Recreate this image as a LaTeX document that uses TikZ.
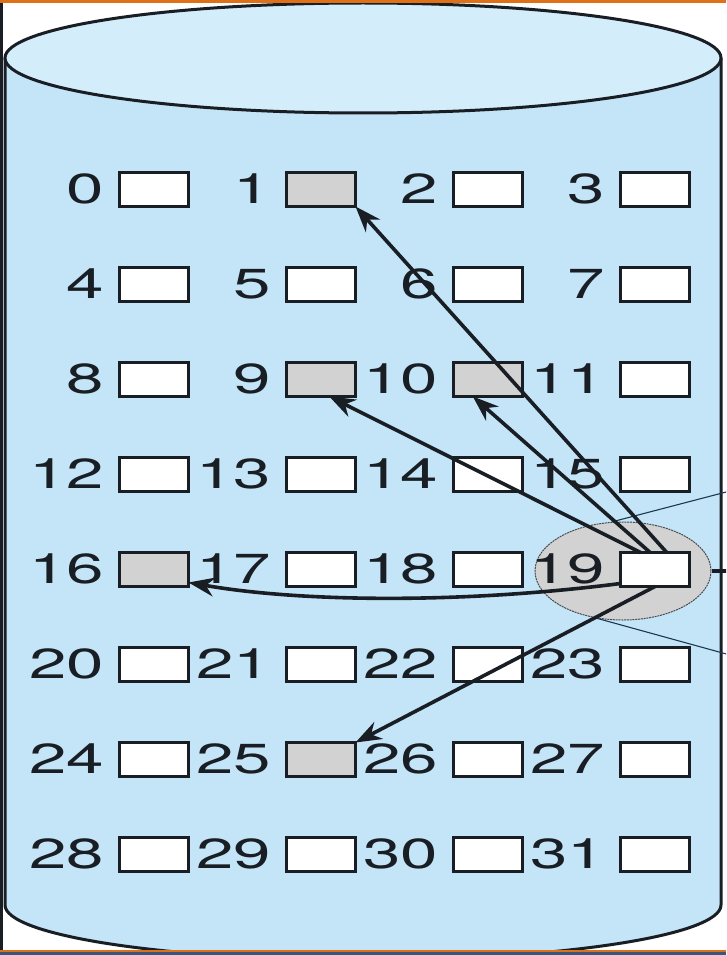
\documentclass[tikz,border=0pt]{standalone}
\usepackage{fontspec}
\setmainfont{TeX Gyre Heros}
\usetikzlibrary{arrows.meta,calc,shapes.geometric}
\definecolor{bodyblue}{RGB}{196,229,247}
\definecolor{topblue}{RGB}{212,237,251}
\definecolor{grayfill}{RGB}{210,210,210}
\definecolor{ink}{RGB}{25,30,36}
\definecolor{thinink}{RGB}{30,55,80}
\definecolor{orangeband}{RGB}{222,112,24}
\definecolor{blueband}{RGB}{55,85,125}
\begin{document}
\begin{tikzpicture}[x=1pt,y=-1pt,
  box/.style={draw=ink, line width=3pt, fill=white, minimum width=69pt, minimum height=34pt, inner sep=0pt, outer sep=0pt},
  shaded/.style={box, fill=grayfill},
  lab/.style={anchor=base east, inner sep=0pt, text=ink, font=\fontsize{42}{42}\selectfont},
  arr/.style={line width=3.6pt, draw=ink, -{Stealth[length=26pt,width=19pt]}},
  callout/.style={line width=1.1pt, draw=thinink},
  outline/.style={line width=3pt, draw=ink}]
\useasboundingbox (0,0) rectangle (726,955);
\clip (0,0) rectangle (726,955);
\fill[white] (0,0) rectangle (726,955);
% cylinder body
\fill[bodyblue] (5,58) -- (5,905) arc[start angle=180, end angle=0, x radius=358, y radius=55] -- (721,58) -- cycle;
\draw[outline] (5,58) -- (5,905) arc[start angle=180, end angle=0, x radius=358, y radius=55] -- (721,58);
\draw[outline, fill=topblue] (363,58) ellipse[x radius=358, y radius=55];
% frame line on the left
\draw[line width=3pt, ink] (1.5,0) -- (1.5,955);
% highlight ellipse
\node[ellipse, draw=ink!80, dash pattern=on 2pt off 0.8pt, line width=1pt, fill=grayfill, minimum width=176pt, minimum height=98pt, inner sep=0pt] (hl) at (623,571) {};
\coordinate (cu) at (730,491);
\coordinate (cl) at (730,655);
\coordinate (cr) at (730,571);
\draw[callout] (hl.103) -- (cu);
\draw[callout] (hl.241) -- (cl);
\draw[line width=3.2pt, ink] (hl.east) -- (cr);
% blocks
\foreach \n/\s in {0/box,1/shaded,2/box,3/box,4/box,5/box,6/box,7/box,8/box,9/shaded,10/shaded,11/box,12/box,13/box,14/box,15/box,16/shaded,17/box,18/box,19/box,20/box,21/box,22/box,23/box,24/box,25/shaded,26/box,27/box,28/box,29/box,30/box,31/box}{
  \pgfmathtruncatemacro{\rr}{int(\n/4)}
  \pgfmathtruncatemacro{\cc}{mod(\n,4)}
  \node[\s] (b\n) at ({154+167*\cc},{189.5+95*\rr}) {};
  \node[lab] (l\n) at ($(b\n.south west)+(-15,-3)$) {\scalebox{1.6}[1]{\n}};
}
% arrows
\draw[arr] ($(b19.north west)!0.67!(b19.north east)$) -- (b1.south east);
\draw[arr] ($(b19.north west)!0.43!(b19.north east)$) -- ($(b10.south west)!0.28!(b10.south east)$);
\draw[arr] ($(b19.north west)!0.29!(b19.north east)$) -- ($(b9.south west)!0.62!(b9.south east)$);
\draw[arr] ($(b19.south west)+(0,-3)$) .. controls (460,604) and (300,602) .. ($(b16.south east)+(0,-4)$);
\draw[arr] ($(b19.south west)!0.5!(b19.south east)$) -- (b25.north east);
% bands
\fill[orangeband] (0,0) rectangle (726,3.2);
\fill[orangeband] (0,949.5) rectangle (726,952);
\fill[blueband] (0,952) rectangle (726,955);
\end{tikzpicture}
\end{document}
